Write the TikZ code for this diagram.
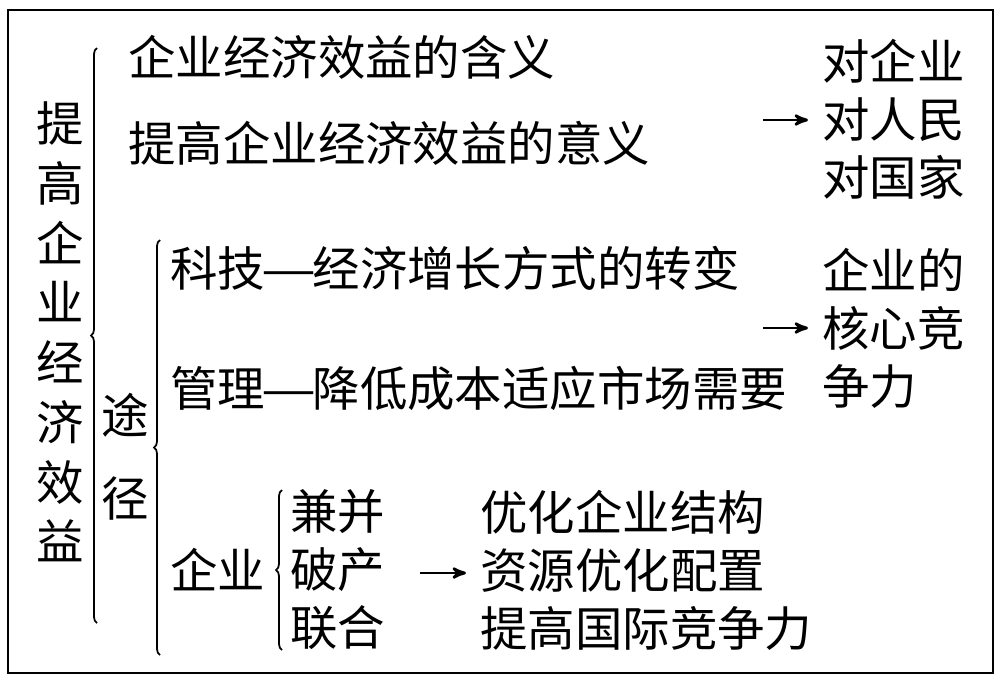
\documentclass[tikz,border=0pt]{standalone}
\usepackage{fontspec}
\setmainfont{Noto Sans CJK SC}
\usetikzlibrary{arrows,decorations.pathreplacing}

\newcommand{\heng}{\makebox[1em]{\scalebox{1.3}[1]{—}}}

\begin{document}
\begin{tikzpicture}[x=0.02cm,y=-0.02cm,>=stealth',
  txt/.style={inner sep=0pt,anchor=west,font=\fontsize{27}{33}\selectfont},
  col/.style={txt,align=left},
  kuohao/.style={decorate,decoration={brace,amplitude=0.12cm},line width=1pt},
  jiantou/.style={->,line width=1.6pt,shorten >=0.28cm}]

\useasboundingbox (0,0) rectangle (1000,683);
\draw[line width=1.3pt] (8,10) rectangle (993,673);

\node[txt,anchor=center,align=center,font=\fontsize{27}{34}\selectfont] (tigao) at (60,332) {提\\高\\企\\业\\经\\济\\效\\益};
\node[txt,anchor=center,align=center,font=\fontsize{27}{47}\selectfont] (tujing) at (125,457) {途\\径};

\node[txt]   (hanyi)   at (128,57)  {企业经济效益的含义};
\node[txt]   (yiyi)    at (128,143) {提高企业经济效益的意义};
\node[col]   (duixiang) at (822,119) {对企业\\对人民\\对国家};

\node[txt]   (keji)    at (170,268) {科技\heng 经济增长方式的转变};
\node[txt]   (guanli)  at (170,388) {管理\heng 降低成本适应市场需要};
\node[col]   (hexin)   at (822,328) {企业的\\核心竞\\争力};

\node[txt]   (qiye)    at (170,570) {企业};
\node[col]   (fangshi) at (290,570) {兼并\\破产\\联合};
\node[col]   (youhua)  at (480,570) {优化企业结构\\资源优化配置\\提高国际竞争力};

% kuohao
\draw[kuohao] (97,623) -- (97,48);
\draw[kuohao] (160,655) -- (160,240);
\draw[kuohao] (282,650) -- (282,490);

% jiantou
\coordinate (a1) at (763,120);
\coordinate (a2) at (763,328);
\coordinate (a3) at (420,573);
\draw[jiantou] (a1) -- (a1 -| duixiang.west);
\draw[jiantou] (a2) -- (a2 -| hexin.west);
\draw[jiantou] (a3) -- (a3 -| youhua.west);

\end{tikzpicture}
\end{document}
